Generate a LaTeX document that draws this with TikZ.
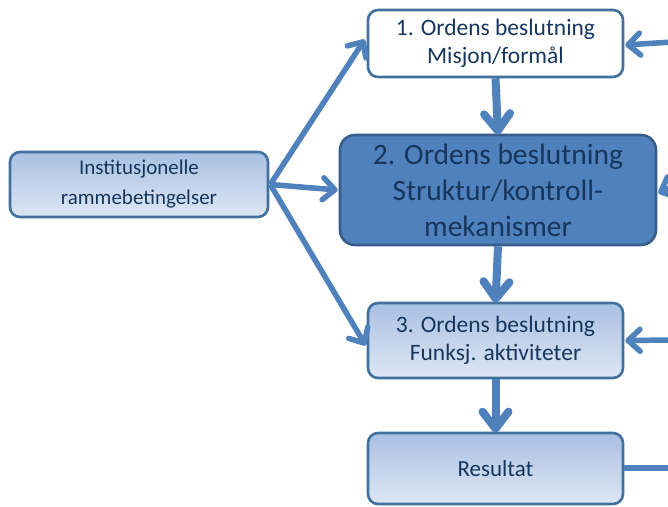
\documentclass[tikz,border=0pt]{standalone}
\usepackage{fontspec}
\setmainfont{Carlito}
\usetikzlibrary{arrows.meta}
\definecolor{arrowblue}{HTML}{4F81BD}
\definecolor{edgeblue}{HTML}{41719C}
\definecolor{darkedge}{HTML}{385D8A}
\definecolor{textnavy}{HTML}{17365D}
\definecolor{fillmid}{HTML}{4F81BD}
\definecolor{gradtop}{HTML}{A9C0E2}
\definecolor{gradbot}{HTML}{DDE7F4}
\tikzset{
  box/.style={draw=edgeblue, line width=2.6pt, rounded corners=10pt,
    align=center, text=textnavy, inner sep=0pt},
  gradbox/.style={box, top color=gradtop, bottom color=gradbot},
  flow/.style={draw=arrowblue, line width=5.5pt,
    -{Straight Barb[length=12pt,width=22pt,round]}},
  downflow/.style={draw=arrowblue, line width=8pt,
    -{Straight Barb[length=17pt,width=26pt,round]}},
  plainflow/.style={draw=arrowblue, line width=6pt},
}
\begin{document}
\begin{tikzpicture}[x=1pt,y=-1pt]
\useasboundingbox (0,0) rectangle (668,506);
\fill[white] (0,0) rectangle (668,506);

% the four decision levels
\node[box, fill=white, minimum width=255pt, minimum height=67pt,
  font=\fontsize{23.5}{28}\selectfont] (o1) at (495.5,43.5)
  {1. Ordens beslutning\\Misjon/formål};
\node[box, draw=darkedge, fill=fillmid, rounded corners=15pt,
  minimum width=316pt, minimum height=110pt,
  font=\fontsize{29.5}{36}\selectfont] (o2) at (498,190)
  {2. Ordens beslutning\\Struktur/kontroll-\\mekanismer};
\node[gradbox, minimum width=255pt, minimum height=75pt,
  font=\fontsize{23.5}{28}\selectfont] (o3) at (495.5,340.5)
  {3. Ordens beslutning\\Funksj. aktiviteter};
\node[gradbox, minimum width=255pt, minimum height=71pt,
  font=\fontsize{23}{28}\selectfont] (res) at (495.5,468.5)
  {Resultat};

% institutional frame
\node[gradbox, minimum width=258pt, minimum height=65pt,
  font=\fontsize{21}{30}\selectfont] (inst) at (139,184.5)
  {Institusjonelle\\rammebetingelser};

% feedback entry points on the right edge
\coordinate (f1) at (672,42);
\coordinate (f2) at (672,187);
\coordinate (f3) at (672,340);
\coordinate (f4) at (672,468);

% influence of the institutional frame
\coordinate (src) at ([xshift=1pt]inst.east);
\draw[flow] (src) -- ([xshift=-2pt,yshift=4pt]o1.west);
\draw[flow] (src) -- ([xshift=-1pt]o2.west);
\draw[flow] (src) -- ([xshift=-1pt,yshift=-5pt]o3.west);

% downward chain
\draw[downflow] (o1.south) -- ([yshift=-1pt]o2.north);
\draw[downflow] (o2.south) -- ([yshift=-1pt]o3.north);
\draw[downflow] (o3.south) -- ([yshift=-1pt]res.north);

% feedback from the right
\draw[flow] (f1) -- ([xshift=1pt,yshift=-1.5pt]o1.east);
\draw[flow] (f2) -- ([xshift=1pt,yshift=-3pt]o2.east);
\draw[flow] (f3) -- ([xshift=1pt]o3.east);
\draw[plainflow] (res.east |- f4) -- (f4);
\end{tikzpicture}
\end{document}
